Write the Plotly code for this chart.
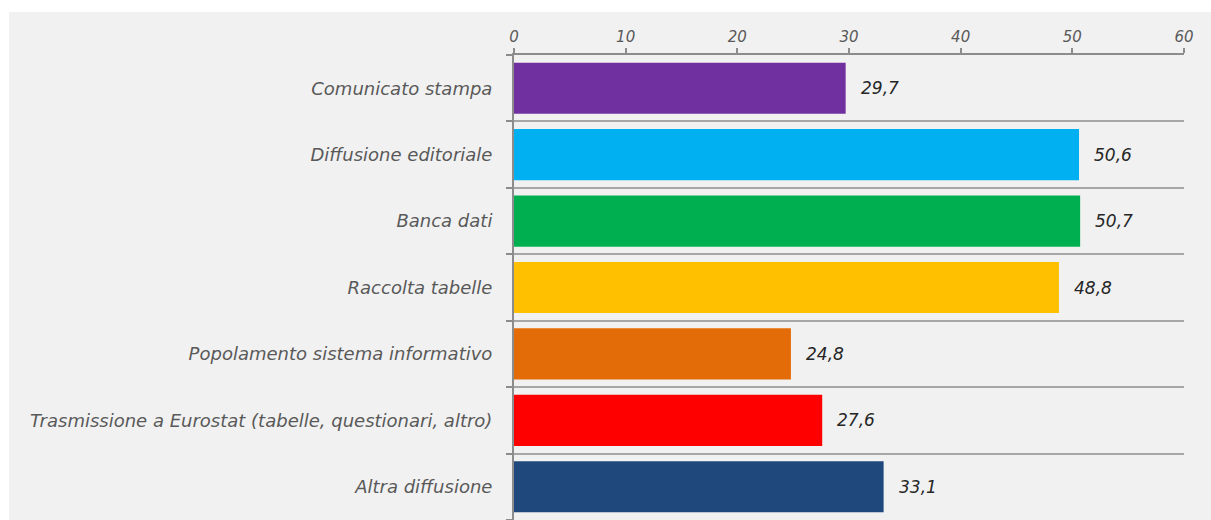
import plotly.graph_objects as go

categories = [
    "Comunicato stampa",
    "Diffusione editoriale",
    "Banca dati",
    "Raccolta tabelle",
    "Popolamento sistema informativo",
    "Trasmissione a Eurostat (tabelle, questionari, altro)",
    "Altra diffusione",
]
values = [29.7, 50.6, 50.7, 48.8, 24.8, 27.6, 33.1]
value_labels = ["29,7", "50,6", "50,7", "48,8", "24,8", "27,6", "33,1"]
colors = ["#7030a0", "#00b0f0", "#00b050", "#ffc000", "#e36c09", "#ff0000", "#1f497d"]
x_ticks = [0, 10, 20, 30, 40, 50, 60]

FONT = "DejaVu Sans, Verdana, sans-serif"
BG = "#f1f1f1"

fig = go.Figure()
fig.add_trace(go.Bar(
    y=categories, x=values, orientation="h",
    marker=dict(color=colors, line=dict(width=0)),
    width=0.77,
    hoverinfo="skip",
))

annotations = []
for c, v, t in zip(categories, values, value_labels):
    annotations.append(dict(
        x=v, y=c, xref="x", yref="y", text="<i>" + t + "</i>",
        showarrow=False, xanchor="left", yanchor="middle", xshift=13,
        font=dict(family=FONT, size=17, color="#262626"),
    ))

# body margin is removed below, so figure coords = page coords
W, H = 1211, 520
L, R, T, B = 514, 27, 55, 0
pw, ph = W - L - R, H - T - B
shapes = [
    dict(type="rect", xref="paper", yref="paper", layer="below",
         x0=-L / pw - 0.01, x1=(W - L) / pw + 0.01,
         y0=(H - 12) / ph, y1=H / ph + 0.01,
         fillcolor="white", line=dict(width=0)),
    dict(type="rect", xref="paper", yref="paper", layer="below",
         x0=-L / pw - 0.01, x1=(9 - L) / pw,
         y0=-0.02, y1=H / ph + 0.01,
         fillcolor="white", line=dict(width=0)),
]

fig.update_layout(
    width=W, height=H,
    margin=dict(l=L, r=R, t=T, b=B, pad=0),
    paper_bgcolor=BG, plot_bgcolor=BG,
    showlegend=False,
    bargap=0.23,
    shapes=shapes,
    annotations=annotations,
    xaxis=dict(
        side="top", range=[0, 60], tickvals=x_ticks,
        ticktext=["<i>%d</i>" % v for v in x_ticks],
        showgrid=False, zeroline=False,
        showline=True, linecolor="#8c8c8c", linewidth=1.5,
        ticks="outside", ticklen=5, tickwidth=1.5, tickcolor="#8c8c8c",
        tickfont=dict(family=FONT, size=15, color="#595959"),
        fixedrange=True,
    ),
    yaxis=dict(
        type="category", categoryorder="array", categoryarray=categories,
        range=[6.5, -0.5],
        tickson="boundaries",
        ticktext=["<i>" + c + "</i>" for c in categories], tickvals=categories,
        showgrid=True, gridcolor="#a6a6a6", gridwidth=1.5,
        showline=True, linecolor="#8c8c8c", linewidth=2,
        ticks="outside", ticklen=6, tickwidth=1.5, tickcolor="#8c8c8c",
        ticklabelstandoff=16,
        tickfont=dict(family=FONT, size=18, color="#595959"),
        zeroline=False, fixedrange=True,
    ),
)

fig.write_html(
    "out.html",
    config={"displayModeBar": False},
    post_script="document.body.style.margin='0';"
                "document.documentElement.style.overflow='hidden';",
)
